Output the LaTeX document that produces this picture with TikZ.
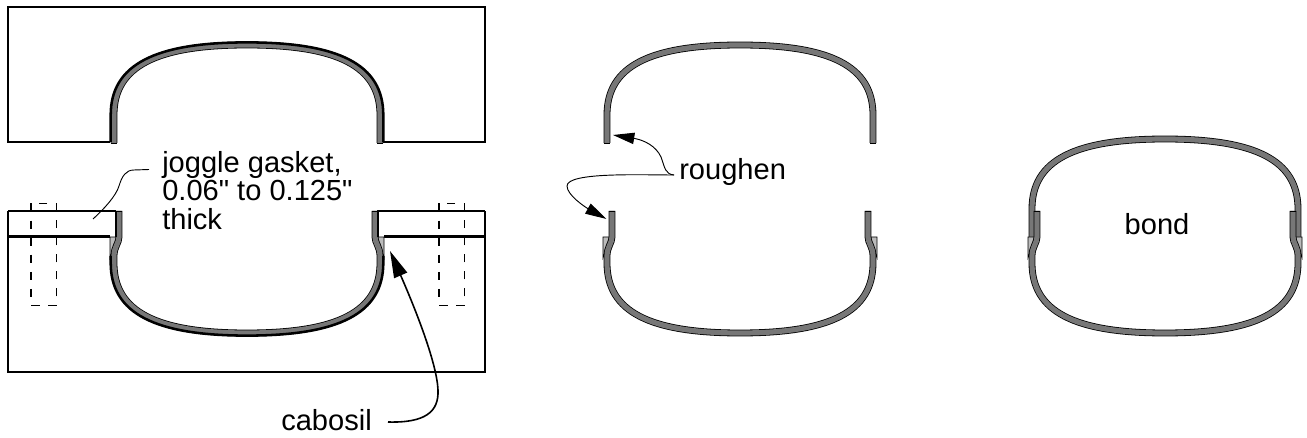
\documentclass[tikz,border=0pt]{standalone}
\usepackage{fontspec}
\newfontfamily\labfont{Liberation Sans}
\usetikzlibrary{arrows.meta}
\definecolor{shellgray}{HTML}{777777}
\definecolor{wedgegray}{HTML}{BBBBBB}
\tikzset{
  shell/.style={draw=black,double=shellgray,line width=0.6pt,double distance=3.9pt,line cap=butt},
  edge/.style={black,line width=1.9pt},
  blockline/.style={black,line width=1.3pt},
  bolt/.style={black,line width=1.4pt,dash pattern=on 6.4pt off 6.4pt},
  wedge/.style={fill=wedgegray,draw=black,line width=0.5pt},
  leader/.style={black,line width=0.7pt},
  bighead/.style={-{Triangle[length=20pt,width=10.5pt]}},
  midhead/.style={-{Triangle[length=16pt,width=8.5pt]}},
  lab/.style={font=\labfont\fontsize{21.8pt}{24pt}\selectfont,inner sep=0pt,align=left},
  pics/uppershell/.style={code={
    \draw[shell] (-133,143) -- (-133,115) .. controls (-133,66) and (-90,45) .. (0,45)
       .. controls (90,45) and (133,66) .. (133,115) -- (133,143);
    \draw[black,line width=0.6pt] (-136.4,143) -- (-129.6,143);
    \draw[black,line width=0.6pt] (136.4,143) -- (129.6,143);
  }},
  pics/lowershell/.style={code={
    \fill[wedge] (-137,237) -- (-130,237) -- (-137,258) -- cycle;
    \fill[wedge] (137,237) -- (130,237) -- (137,258) -- cycle;
    \draw[shell] (-128,211) -- (-128,237) .. controls (-128,243) and (-133,247) .. (-133,256)
       -- (-133,263) .. controls (-133,312) and (-90,333) .. (0,333)
       .. controls (90,333) and (133,312) .. (133,263) -- (133,256)
       .. controls (133,247) and (128,243) .. (128,237) -- (128,211);
    \draw[black,line width=0.6pt] (-131.4,211) -- (-124.6,211);
    \draw[black,line width=0.6pt] (131.4,211) -- (124.6,211);
  }},
}
\begin{document}
\begin{tikzpicture}[x=0.75pt,y=-0.75pt]
\useasboundingbox (0,0) rectangle (1307,438);
% top block, left figure
\draw[blockline] (110,142) -- (8,142) -- (8,7) -- (485,7) -- (485,142) -- (383,142);
\pic at (247,0) {uppershell};
\draw[edge] (110.7,142) -- (110.7,115) .. controls (110.7,64.5) and (155,42.4) .. (247,42.4)
   .. controls (339,42.4) and (383.3,64.5) .. (383.3,115) -- (383.3,142);
% lower block, left figure
\draw[blockline] (8,236) -- (8,372) -- (485,372) -- (485,211);
\draw[edge] (8,211) -- (116,211);
\draw[edge] (377,211) -- (485,211);
\draw[edge] (8,236.5) -- (110,236.5);
\draw[edge] (384,236.5) -- (485,236.5);
\draw[blockline] (8,211) -- (8,236);
\pic at (247,0) {lowershell};
\draw[edge] (110.7,256) -- (110.7,263) .. controls (110.7,313.5) and (155,335.6) .. (247,335.6)
   .. controls (339,335.6) and (383.3,313.5) .. (383.3,263) -- (383.3,256);
\draw[edge] (116,211) -- (116,237);
\draw[edge] (378,211) -- (378,237);
% bolts
\draw[bolt] (31,203.5) rectangle (56.5,305.5);
\draw[bolt] (439,203.5) rectangle (464.5,305.5);
% labels
\node[lab,anchor=north west] (gasket) at (162,151) {joggle gasket,\\[-2.6pt]0.06" to 0.125"\\[-2.2pt]thick};
\coordinate (gasketstart) at (149,169.5);
\coordinate (gasketend) at (93,219);
\draw[leader] (gasketstart) -- (134,170) .. controls (126,170) and (122,176) .. (119,186)
   .. controls (116,196) and (104,209) .. (gasketend);
\node[lab,anchor=base west] (cabosil) at (281,431) {cabosil};
\coordinate (cabostart) at (388,422);
\coordinate (cabotip) at (390,251);
\draw[black,line width=1.2pt,bighead] (cabostart)
   .. controls (425,423) and (439,412) .. (438,390) .. controls (437,365) and (418,315) .. (cabotip);
% middle figure
\pic at (740,0) {uppershell};
\pic at (740,0) {lowershell};
\node[lab,anchor=base west] (rough) at (679,180) {roughen};
\coordinate (roughstart) at (674,175);
\coordinate (roughup) at (613,135);
\coordinate (roughdown) at (606.5,219);
\draw[leader,midhead] (roughstart) .. controls (665,174) and (665,168) .. (661,157)
   .. controls (656,146) and (644,140) .. (roughup);
\draw[leader,midhead] (roughstart) .. controls (640,175) and (567,172) .. (567,186)
   .. controls (567,195) and (585,207) .. (roughdown);
% right figure
\begin{scope}[yshift=-70.5pt]
\pic at (1165,0) {uppershell};
\end{scope}
\pic at (1165,0) {lowershell};
\node[lab] (bond) at (1157,224) {bond};
\end{tikzpicture}
\end{document}
